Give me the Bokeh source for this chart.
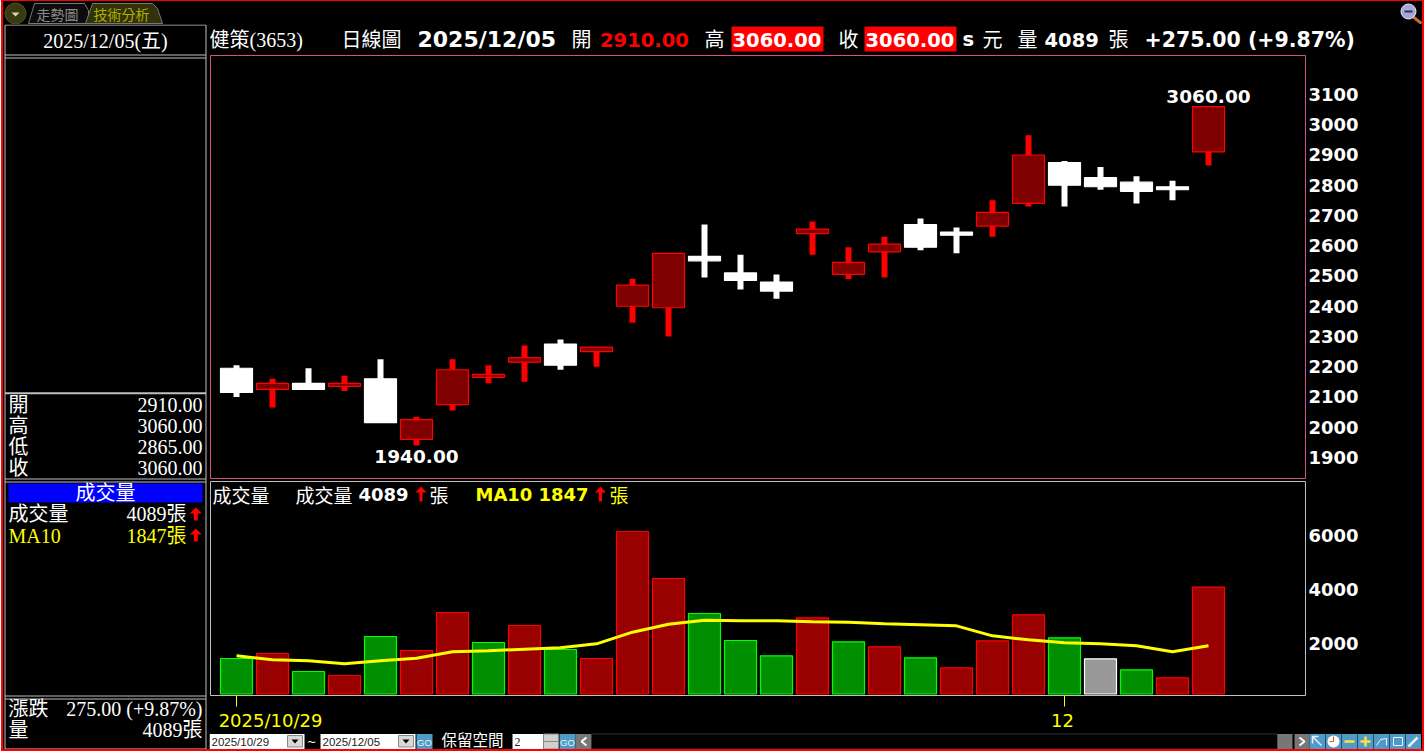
from bokeh.plotting import figure
from bokeh.layouts import column, row
from bokeh.models import Range1d, FixedTicker, LinearAxis, ColumnDataSource
from bokeh.core.properties import value
from bokeh.embed import file_html
from bokeh.resources import INLINE

OPEN = [2195,2125,2145,2135,2160,1960,2075,2165,2215,2275,2250,2400,2395,2565,2510,2480,2640,2505,2580,2670,2645,2665,2740,2875,2825,2810,2795,2910]
HIGH = [2205,2160,2195,2170,2225,2035,2225,2205,2270,2290,2265,2490,2575,2670,2570,2505,2680,2595,2630,2690,2660,2750,2965,2880,2860,2830,2815,3060]
LOW = [2100,2065,2125,2120,2015,1940,2055,2145,2150,2190,2200,2345,2300,2495,2455,2425,2570,2490,2495,2585,2575,2630,2730,2730,2785,2740,2750,2865]
CLOSE = [2115,2145,2125,2145,2015,2025,2190,2175,2230,2205,2265,2470,2575,2550,2485,2450,2655,2545,2605,2595,2635,2710,2900,2800,2795,2780,2785,3060]
VOLUME = [1444,1630,963,815,2259,1741,3148,2037,2667,1778,1444,6148,4407,3111,2111,1544,2952,2063,1878,1470,1100,2100,3063,2211,1433,1026,730,4089]
VOL_DIR = ["g","r","g","r","g","r","r","g","r","g","r","r","r","g","g","g","r","g","r","g","r","r","r","g","w","g","r","r"]
MA10 = [1543,1395,1358,1247,1358,1457,1691,1728,1790,1840,1988,2420,2716,2864,2840,2840,2803,2790,2729,2692,2655,2284,2136,2025,1988,1914,1691,1914]
PRICE_TICKS = [1900,2000,2100,2200,2300,2400,2500,2600,2700,2800,2900,3000,3100]
VOL_TICKS = [2000,4000,6000]
DATE_MARK_IDX = [0,23]
FIRST_DATE = "2025/10/29"
LAST_DATE = "2025/12/05"
DATE_TICK_LABELS = [FIRST_DATE,"12"]
TITLE_NAME = "健策(3653)"
SERIF = '"Liberation Serif","Noto Sans CJK TC"'
SANS = "DejaVu Sans"
CJK = "Noto Sans CJK TC"
GREY = "#c0c0c0"
CENTER0 = 236

def chrome(w, h, x0, y0):
    p = figure(width=w, height=h, x_range=Range1d(x0, x0+w), y_range=Range1d(y0+h, y0),
               x_axis_type=None, y_axis_type=None, output_backend="svg", toolbar_location=None,
               min_border=0, background_fill_color="black", border_fill_color="black",
               outline_line_color=None, frame_align=False)
    p.grid.visible = False
    return p

def txt(p, x, y, s, color="white", size=20, font=SERIF, bold=False, align="left", **kw):
    p.text(x=[x], y=[y], text=[s], text_color=color, text_font_size=f"{size}px",
           text_font=value(font), text_font_style="bold" if bold else "normal",
           text_align=align, text_baseline="middle", **kw)

def box(p, l, r, t, b, fill, line=None, **kw):
    p.quad(left=[l], right=[r], top=[t], bottom=[b], fill_color=fill, line_color=line, **kw)

def hline(p, x0, x1, y, color=GREY, w=1, **kw):
    p.line(x=[x0, x1], y=[y, y], line_color=color, line_width=w, **kw)

def vline(p, x, y0, y1, color=GREY, w=1, **kw):
    p.line(x=[x, x], y=[y0, y1], line_color=color, line_width=w, **kw)

def arrow(p, cx, top, bot, hw=6, sw=2, head=6, color="#ff0000", **kw):
    p.patch(x=[cx, cx+hw, cx+sw, cx+sw, cx-sw, cx-sw, cx-hw],
            y=[top, top+head, top+head, bot, bot, top+head, top+head],
            fill_color=color, line_color=None, **kw)

def value_axis(a, ticks):
    a.ticker = FixedTicker(ticks=ticks)
    a.axis_line_color = None
    a.major_tick_line_color = None
    a.minor_tick_line_color = None
    a.major_tick_in = 0
    a.major_tick_out = 0
    a.minor_tick_in = 0
    a.minor_tick_out = 0
    a.major_label_standoff = 3
    a.major_label_text_color = "white"
    a.major_label_text_font = SANS
    a.major_label_text_font_style = "bold"
    a.major_label_text_font_size = "18px"

# ---- tab strip
tabs = chrome(1419, 23, 3, 1)
tabs.scatter(x=[15], y=[13], size=21, fill_color="#3a3a12", line_color="#55551f")
tabs.patch(x=[11, 19, 15], y=[12, 12, 16], fill_color="#d8d8a0", line_color=None)
tabs.patch(x=[28, 34, 84, 88, 88, 28], y=[23, 3, 3, 10, 23, 23], fill_color="#0c0c0c", line_color="#777777")
tabs.patch(x=[85, 92, 152, 157, 162, 85], y=[23, 3, 3, 8, 23, 23], fill_color="#33330a", line_color="#777777")
txt(tabs, 36, 13, "走勢圖", "#8a8a8a", 14, CJK)
txt(tabs, 93, 13, "技術分析", "#b0b000", 14, CJK)
tabs.line(x=[1411, 1421], y=[15, 23], line_color="#c07030", line_width=3)
tabs.scatter(x=[1408], y=[11], size=15, fill_color="#a8a8d8", line_color="#e8e8f8")
hline(tabs, 1404, 1412, 11, "#303050", 2)

# ---- left panel
left = chrome(206, 725, 3, 24)
for y in [24.5, 54.5, 57.5, 478.5, 481.5, 695.5, 698.5, 748.5]:
    hline(left, 4.5, 205.5, y)
hline(left, 4.5, 205.5, 392.8, GREY, 2)
vline(left, 4.5, 24.5, 748.5)
vline(left, 205.5, 24.5, 748.5)
txt(left, 105, 40, f"{LAST_DATE}(五)", size=20, align="center")
for lab, v, y in zip(["開", "高", "低", "收"], [OPEN[-1], HIGH[-1], LOW[-1], CLOSE[-1]], [404.5, 425.5, 446.5, 467.5]):
    txt(left, 8, y, lab)
    txt(left, 202, y, f"{v:.2f}", align="right")
box(left, 8, 202, 483, 502, "#0000ff")
txt(left, 105, 492, "成交量", align="center")
txt(left, 8, 513, "成交量")
txt(left, 186, 513, f"{VOLUME[-1]}張", align="right")
txt(left, 8, 535, "MA10", "#ffff00")
txt(left, 186, 535, "1847張", "#ffff00", align="right")
arrow(left, 195.3, 507, 520)
arrow(left, 195.3, 528, 541)
txt(left, 8, 708, "漲跌")
txt(left, 202, 708, "275.00 (+9.87%)", align="right")
txt(left, 8, 729, "量")
txt(left, 202, 729, f"{VOLUME[-1]}張", align="right")

# ---- title strip
head = chrome(1213, 30, 209, 24)
txt(head, 209, 39, TITLE_NAME)
txt(head, 341, 39, "日線圖")
txt(head, 417, 39, LAST_DATE, size=22, font=SANS, bold=True)
txt(head, 571, 39, "開")
txt(head, 599.5, 39, f"{OPEN[-1]:.2f}", "#ff0000", 19.5, SANS, True)
txt(head, 704, 39, "高")
box(head, 731, 823, 26, 51, "#ff0000")
txt(head, 732, 39, f"{HIGH[-1]:.2f}", "white", 19.5, SANS, True)
txt(head, 838, 39, "收")
box(head, 864, 956, 26, 51, "#ff0000")
txt(head, 865, 39, f"{CLOSE[-1]:.2f}", "white", 19.5, SANS, True)
txt(head, 962, 39, "s", "white", 19.5, SANS, True)
txt(head, 982, 39, "元")
txt(head, 1017, 39, "量")
txt(head, 1044, 39, f"{VOLUME[-1]}", "white", 19.5, SANS, True)
txt(head, 1108, 39, "張")
txt(head, 1144, 39, "+275.00 (+9.87%)", "white", 20.5, SANS, True)

# ---- price chart
idx = list(range(len(OPEN)))
XLO, XHI = (210-CENTER0)/36, (1305-CENTER0)/36
price = figure(width=1213, height=426, x_range=Range1d(XLO, XHI), y_range=Range1d(1830.5, 3228.9),
               x_axis_type=None, y_axis_location="right", output_backend="svg", toolbar_location=None,
               min_border_left=1, min_border_right=117, min_border_top=1, min_border_bottom=2,
               background_fill_color="black", border_fill_color="black",
               outline_line_color="#d4508a", outline_line_width=1, frame_align=False)
price.grid.visible = False
value_axis(price.yaxis[0], PRICE_TICKS)

up = [c >= o for o, c in zip(OPEN, CLOSE)]
src = ColumnDataSource(dict(
    x=idx, high=HIGH, low=LOW,
    top=[max(o, c) for o, c in zip(OPEN, CLOSE)],
    bottom=[min(o, c) for o, c in zip(OPEN, CLOSE)],
    wick=["#ff0000" if u else "#ffffff" for u in up],
    fill=["#7f0000" if u else "#ffffff" for u in up],
    edge=["#ff0000" if u else "#ffffff" for u in up],
))
price.vbar(x="x", top="high", bottom="low", width=6/36, fill_color="wick", line_color=None, source=src)
price.vbar(x="x", top="top", bottom="bottom", width=32/36, fill_color="fill", line_color="edge", line_width=1.2, source=src)
imax = HIGH.index(max(HIGH)); imin = LOW.index(min(LOW))
price.text(x=[imax], y=[HIGH[imax]], text=[f"{HIGH[imax]:.2f}"], text_color="white", text_font=value(SANS),
           text_font_style="bold", text_font_size="18.5px", text_align="center", text_baseline="middle", y_offset=-10)
price.text(x=[imin], y=[LOW[imin]], text=[f"{LOW[imin]:.2f}"], text_color="white", text_font=value(SANS),
           text_font_style="bold", text_font_size="18.5px", text_align="center", text_baseline="middle", y_offset=11)

# ---- volume chart
vol = figure(width=1213, height=253, x_range=Range1d(XLO, XHI), y_range=Range1d(74, 8001),
             y_axis_location="right", output_backend="svg", toolbar_location=None,
             min_border_left=1, min_border_right=117, min_border_top=1, min_border_bottom=38,
             background_fill_color="black", border_fill_color="black",
             outline_line_color=GREY, outline_line_width=1, frame_align=False)
vol.grid.visible = False
vol.extra_x_ranges = {"px": Range1d(210, 1305)}
vol.extra_y_ranges = {"px": Range1d(695, 481)}
value_axis(vol.yaxis[0], VOL_TICKS)

# date marks: a first axis with only the yellow ticks, a second with only the labels
marks = vol.xaxis[0]
marks.ticker = FixedTicker(ticks=DATE_MARK_IDX)
marks.major_label_overrides = {i: "" for i in DATE_MARK_IDX}
marks.axis_line_color = None
marks.minor_tick_line_color = None
marks.minor_tick_out = 0
marks.minor_tick_in = 0
marks.major_tick_in = 0
marks.major_tick_out = 11
marks.major_tick_line_color = "#ffff00"
marks.major_tick_line_width = 1
marks.major_label_standoff = 0
marks.major_label_text_font_size = "1px"
label_pos = [(270-CENTER0)/36, (1062-CENTER0)/36]
labels = LinearAxis(ticker=FixedTicker(ticks=label_pos),
                    major_label_overrides=dict(zip(label_pos, DATE_TICK_LABELS)),
                    axis_line_color=None, major_tick_line_color=None, minor_tick_line_color=None,
                    major_tick_in=0, major_tick_out=0, minor_tick_in=0, minor_tick_out=0,
                    major_label_standoff=3, major_label_text_color="#ffff00",
                    major_label_text_font=SANS, major_label_text_font_size="18px")
vol.add_layout(labels, "below")

VOL_STYLE = {"r": ("#990000", "#ff0000"), "g": ("#008f00", "#00ff00"), "w": ("#999999", "#ffffff")}
vsrc = ColumnDataSource(dict(
    x=idx, top=VOLUME, fill=[VOL_STYLE[d][0] for d in VOL_DIR], edge=[VOL_STYLE[d][1] for d in VOL_DIR]))
vol.vbar(x="x", top="top", bottom=130, width=32/36, fill_color="fill", line_color="edge", line_width=1.2, source=vsrc)
vol.line(x=idx, y=MA10, line_color="#ffff00", line_width=3)

px = dict(x_range_name="px", y_range_name="px")
Y0 = 494
txt(vol, 212, Y0, "成交量", "white", 19, CJK, **px)
txt(vol, 295, Y0, "成交量", "white", 19, CJK, **px)
txt(vol, 358, Y0, f"{VOLUME[-1]}", "white", 18, SANS, True, **px)
arrow(vol, 420.5, 486, 501, hw=5.5, sw=1.5, **px)
txt(vol, 429, Y0, "張", "white", 19, CJK, **px)
txt(vol, 475, Y0, "MA10", "#ffff00", 18, SANS, True, **px)
txt(vol, 538, Y0, "1847", "#ffff00", 18, SANS, True, **px)
arrow(vol, 600, 486, 501, hw=5.5, sw=1.5, **px)
txt(vol, 609, Y0, "張", "#ffff00", 19, CJK, **px)

# ---- bottom controls
ctl = chrome(1213, 18, 209, 731)
ctl.margin = (-2, 0, 0, 0)
def combo(x0, s):
    box(ctl, x0, x0+95, 733.5, 748.5, "white")
    txt(ctl, x0+2, 741.5, s, "#222222", 11.5, "Liberation Sans")
    box(ctl, x0+78, x0+93, 735, 746.5, "#d8d8d8", "#888888")
    ctl.patch(x=[x0+82, x0+89, x0+85.5], y=[739, 739, 743], fill_color="black", line_color=None)
def go(x0):
    box(ctl, x0, x0+16, 733.5, 748.5, "#4f9ac6")
    txt(ctl, x0+8, 741.5, "GO", "#e8f4ff", 9.5, "Liberation Sans", align="center")
combo(209, FIRST_DATE)
txt(ctl, 311, 741, "~", "white", 14, "Liberation Sans", align="center")
combo(320, LAST_DATE)
go(416)
txt(ctl, 441, 740, "保留空間", "white", 15.5, SERIF)
box(ctl, 512, 543, 733.5, 748.5, "white")
txt(ctl, 514, 741, "2", "#222222", 12, "Liberation Serif")
box(ctl, 543, 558, 733.5, 748.5, "#d0d0d0", "#888888")
hline(ctl, 543, 558, 741, "#888888")
go(559)
box(ctl, 575, 591, 733.5, 748.5, "#777777")
ctl.line(x=[586, 581, 586], y=[737, 741, 745], line_color="white", line_width=2)
box(ctl, 591, 1277, 733.5, 748.5, "#000000", "#333333")
box(ctl, 1277, 1292, 733.5, 748.5, "#777777")
box(ctl, 1294, 1309, 733.5, 748.5, "#777777")
ctl.line(x=[1299, 1304, 1299], y=[737, 741, 745], line_color="white", line_width=2)
for i in range(7):
    box(ctl, 1309+16*i, 1324.5+16*i, 733.5, 748.5, "#4f9ac6")
ctl.line(x=[1312, 1312, 1318], y=[743, 736, 736], line_color="#e8f4ff", line_width=1.5)
ctl.line(x=[1312, 1321], y=[736, 745], line_color="#e8f4ff", line_width=1.5)
ctl.scatter(x=[1333], y=[741], size=12, fill_color="white", line_color=None)
ctl.line(x=[1333, 1333, 1329], y=[736, 741, 741], line_color="#e06020", line_width=1)
hline(ctl, 1344, 1354, 741, "#ffe040", 2.5)
hline(ctl, 1360, 1370, 741, "#ffe040", 2.5)
vline(ctl, 1365, 736, 746, "#ffe040", 2.5)
ctl.line(x=[1376, 1380, 1386, 1386], y=[745, 739, 738, 745], line_color="#e8f4ff", line_width=1)
box(ctl, 1393, 1402, 737, 745, None, "#e8f4ff")
ctl.line(x=[1408, 1417], y=[746, 737], line_color="#e8f4ff", line_width=2.5)

root = column(tabs, row(left, column(head, price, vol, ctl, spacing=0), spacing=0), spacing=0,
              margin=(-1, 0, 0, 1), styles={"border": "2px solid #ff0000", "background-color": "black"})
open("out.html", "w").write(file_html(root, INLINE))
